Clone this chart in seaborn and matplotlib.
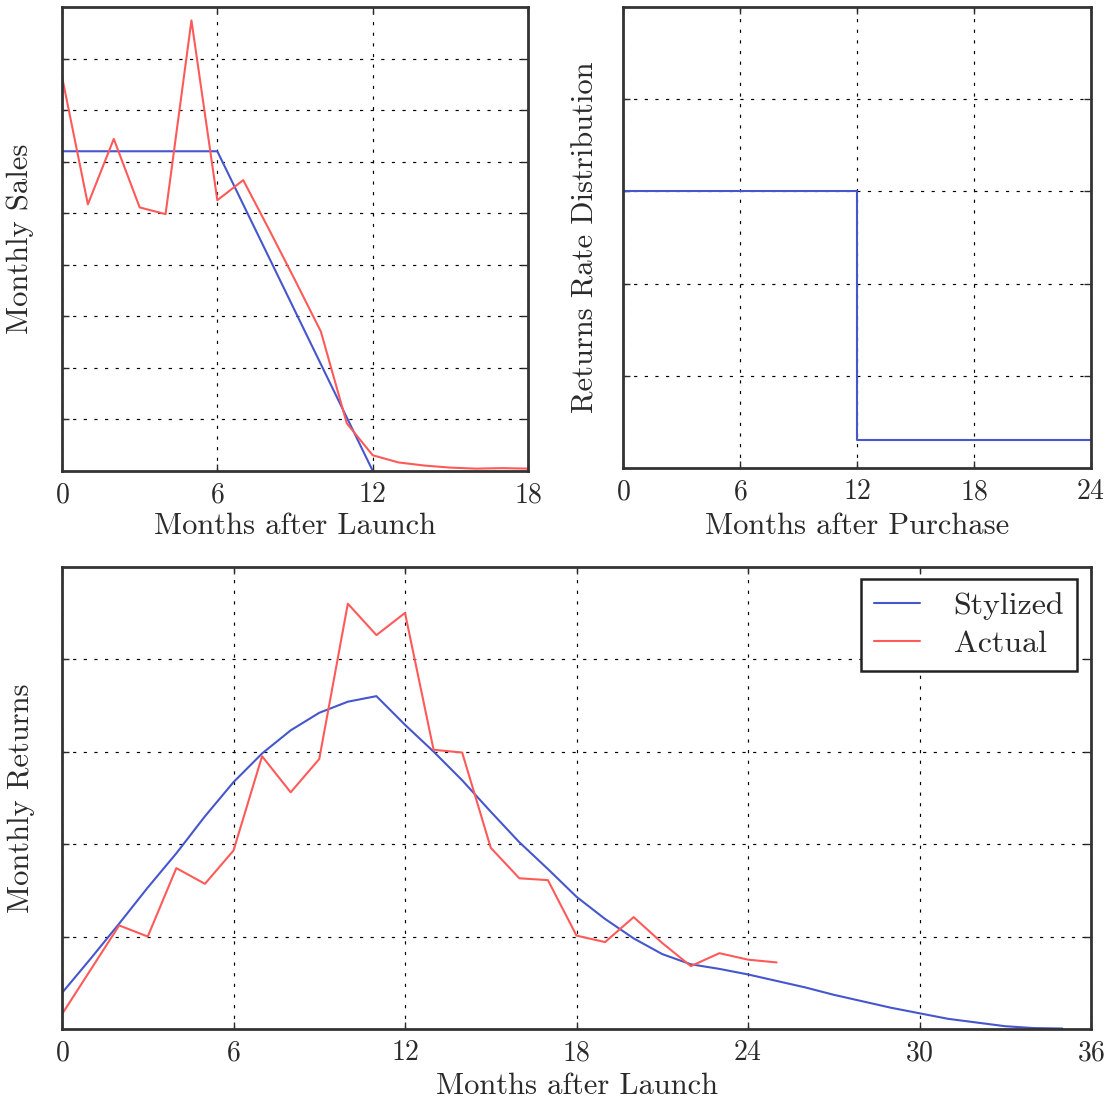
import numpy as np
import pandas as pd
import matplotlib
matplotlib.use("Agg")
import matplotlib.pyplot as plt
import seaborn as sns

# ---- data -------------------------------------------------------------
# Monthly sales after launch
sales_months = list(range(19))
sales_actual = [7.65, 5.17, 6.44, 5.11, 4.98, 8.74, 5.25, 5.64, 4.68, 3.70,
                2.70, 0.92, 0.30, 0.16, 0.10, 0.06, 0.04, 0.05, 0.04]
sales_stylized_months = [0, 6, 12]
sales_stylized = [6.2, 6.2, 0.0]

# Returns rate distribution by months after purchase
rate_months = [0, 12, 24]
rate_values = [3.0, 0.3, 0.3]

# Monthly returns after launch
returns_actual_months = list(range(26))
returns_actual = [0.16, 0.64, 1.12, 1.00, 1.74, 1.57, 1.93, 2.95, 2.56, 2.92,
                  4.60, 4.26, 4.50, 3.02, 2.99, 1.96, 1.63, 1.61, 1.01, 0.94,
                  1.21, 0.93, 0.68, 0.82, 0.75, 0.72]
returns_stylized_months = list(range(36))
returns_stylized = [0.39, 0.76, 1.14, 1.53, 1.90, 2.30, 2.67, 2.98, 3.23, 3.42,
                    3.54, 3.60, 3.29, 3.00, 2.69, 2.35, 2.02, 1.73, 1.43, 1.19,
                    0.98, 0.81, 0.70, 0.65, 0.59, 0.52, 0.45, 0.37, 0.30, 0.23,
                    0.17, 0.11, 0.07, 0.03, 0.01, 0.005]

sales_df = pd.DataFrame({"month": sales_months, "sales": sales_actual})
sales_sty_df = pd.DataFrame({"month": sales_stylized_months, "sales": sales_stylized})
rate_df = pd.DataFrame({"month": rate_months, "rate": rate_values})
ret_df = pd.DataFrame({"month": returns_actual_months, "returns": returns_actual})
ret_sty_df = pd.DataFrame({"month": returns_stylized_months, "returns": returns_stylized})

BLUE = "#4656cc"
RED = "#ff5a5a"
INK = "#2a2a2a"

# ---- style ------------------------------------------------------------
sns.set_theme(style="ticks")
plt.rcParams.update({
    "font.family": ["cmr10", "DejaVu Serif"],
    "axes.formatter.use_mathtext": True,
    "mathtext.fontset": "cm",
    "text.color": INK,
    "axes.labelcolor": INK,
    "axes.edgecolor": "#333333",
})

W, H = 1112, 1101
fig = plt.figure(figsize=(W / 100, H / 100), dpi=100)
fig.patch.set_facecolor("white")


def box(left, right, top, bottom):
    return [left / W, 1 - bottom / H, (right - left) / W, (bottom - top) / H]


ax_sales = fig.add_axes(box(62, 528, 7, 470.7))
ax_rate = fig.add_axes(box(623, 1091, 7, 468))
ax_ret = fig.add_axes(box(62, 1091, 566.7, 1029))


def style_axes(ax, xmax, ymax):
    ax.set_xlim(0, xmax)
    ax.set_ylim(0, ymax)
    ax.set_xticks(np.arange(0, xmax + 1, 6))
    ax.set_yticks(np.arange(1, ymax))
    ax.set_yticklabels([])
    ax.tick_params(direction="in", top=True, right=True, length=5, width=1,
                   labelsize=20, pad=8, colors=INK)
    ax.grid(True, color="black", linestyle=(0, (2.7, 6.3)), linewidth=0.85)
    for s in ax.spines.values():
        s.set_linewidth(2.0)
        s.set_color("#333333")
        s.set_visible(True)
    ax.set_facecolor("white")


LW = 1.5

# Monthly sales
sns.lineplot(data=sales_sty_df, x="month", y="sales", ax=ax_sales, color=BLUE,
             lw=LW, estimator=None, sort=False)
sns.lineplot(data=sales_df, x="month", y="sales", ax=ax_sales, color=RED,
             lw=LW, estimator=None, sort=False)
style_axes(ax_sales, 18, 9)
ax_sales.set_xlabel("Months after Launch", fontsize=22)
ax_sales.set_ylabel("Monthly Sales", fontsize=22)
ax_sales.xaxis.set_label_coords(0.5, -0.091)
ax_sales.yaxis.set_label_coords(-0.060, 0.5)

# Returns rate distribution
sns.lineplot(data=rate_df, x="month", y="rate", ax=ax_rate, color=BLUE,
             lw=LW, estimator=None, sort=False, drawstyle="steps-post")
style_axes(ax_rate, 24, 5)
ax_rate.set_xlabel("Months after Purchase", fontsize=22)
ax_rate.set_ylabel("Returns Rate Distribution", fontsize=22)
ax_rate.xaxis.set_label_coords(0.5, -0.097)
ax_rate.yaxis.set_label_coords(-0.051, 0.5)

# Monthly returns
sns.lineplot(data=ret_sty_df, x="month", y="returns", ax=ax_ret, color=BLUE,
             lw=LW, estimator=None, sort=False, label="Stylized")
sns.lineplot(data=ret_df, x="month", y="returns", ax=ax_ret, color=RED,
             lw=LW, estimator=None, sort=False, label="Actual")
style_axes(ax_ret, 36, 5)
ax_ret.set_xlabel("Months after Launch", fontsize=22)
ax_ret.set_ylabel("Monthly Returns", fontsize=22)
ax_ret.xaxis.set_label_coords(0.5, -0.095)
ax_ret.yaxis.set_label_coords(-0.026, 0.5)

leg = ax_ret.legend(loc="upper right", bbox_to_anchor=(0.9864, 0.9734),
                    borderaxespad=0, fontsize=23, frameon=True, fancybox=False,
                    framealpha=1, edgecolor="#222222", handlelength=1.45,
                    handletextpad=1.05, borderpad=0.4, labelspacing=0.3)
leg.get_frame().set_linewidth(1.8)

fig.savefig("out.png", dpi=100, facecolor="white")
